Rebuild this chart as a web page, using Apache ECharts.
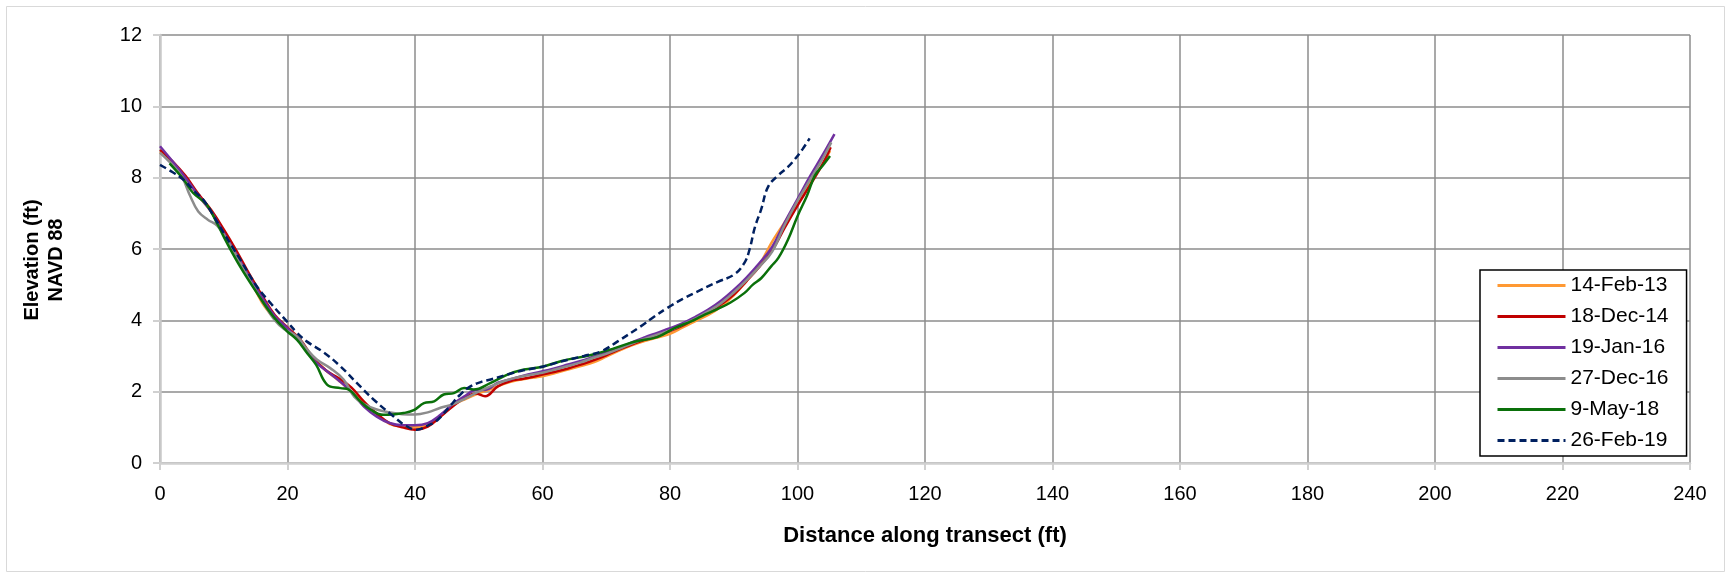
<!DOCTYPE html>
<html>
<head>
<meta charset="utf-8">
<script src="https://cdn.jsdelivr.net/npm/echarts@6/dist/echarts.min.js"></script>
<style>
  html, body { margin: 0; padding: 0; background: #fff; }
  #chart { width: 1732px; height: 579px; }
</style>
</head>
<body>
<div id="chart"></div>
<script>
// survey dates (legend)
const surveyNames = ['14-Feb-13', '18-Dec-14', '19-Jan-16', '27-Dec-16', '9-May-18', '26-Feb-19']

// [distance (ft), elevation (ft NAVD 88)]
const feb13 = [[0,8.72],[2,8.4],[4,8.0],[6,7.5],[8,7.05],[10,6.45],[12,5.85],[14,5.2],[16,4.5],[18,4.05],[20,3.72],[22,3.4],[24,2.95],[26,2.6],[28,2.32],[30,2.0],[32,1.68],[34,1.38],[36,1.1],[38,1.02],[40,1.0],[42,1.06],[44,1.3],[46,1.62],[48,1.8],[50,1.95],[52,2.08],[54,2.22],[56,2.32],[58,2.38],[60,2.43],[62,2.52],[64,2.62],[66,2.72],[68,2.82],[70,2.98],[72,3.15],[74,3.3],[76,3.42],[78,3.52],[80,3.62],[82,3.8],[84,3.98],[86,4.15],[88,4.38],[90,4.7],[92,5.1],[94,5.55],[96,6.2],[98,6.75],[100,7.25],[102,7.85],[104,8.4],[105.1,8.75]]
const dec14 = [[0,8.78],[2,8.45],[4,8.05],[6,7.55],[8,7.1],[10,6.55],[12,5.95],[14,5.3],[16,4.7],[18,4.15],[20,3.8],[22,3.46],[24,2.95],[26,2.6],[28,2.38],[30,2.12],[32,1.72],[34,1.38],[36,1.12],[38,1.0],[40,0.93],[42,1.02],[44,1.3],[46,1.6],[48,1.85],[49.5,1.95],[51,1.87],[53,2.15],[55,2.3],[57,2.36],[60,2.48],[62,2.56],[64,2.65],[66,2.76],[68,2.88],[70,3.02],[72,3.18],[74,3.32],[76,3.45],[78,3.58],[80,3.7],[82,3.85],[84,4.05],[86,4.22],[88,4.45],[90,4.72],[92,5.1],[94,5.5],[96,5.95],[98,6.6],[100,7.22],[102,7.8],[104,8.4],[105.2,8.85]]
const jan16 = [[0,8.88],[2,8.45],[4,8.0],[6,7.5],[8,7.05],[10,6.45],[12,5.85],[14,5.22],[16,4.65],[18,4.12],[20,3.78],[22,3.38],[24,2.9],[26,2.6],[28,2.32],[30,2.0],[32,1.58],[34,1.3],[36,1.12],[38,1.06],[40,1.06],[42,1.12],[44,1.35],[46,1.66],[48,1.9],[49.5,2.05],[51,2.05],[53,2.25],[55,2.35],[57,2.45],[60,2.57],[62,2.66],[64,2.76],[66,2.86],[68,2.98],[70,3.1],[72,3.22],[74,3.38],[76,3.52],[78,3.65],[80,3.78],[82,3.92],[84,4.1],[86,4.3],[88,4.55],[90,4.85],[92,5.2],[94,5.6],[96,6.05],[98,6.75],[100,7.4],[102,8.05],[104,8.65],[105.8,9.22]]
const dec16 = [[0,8.7],[2,8.35],[3.5,8.0],[4.7,7.5],[6,7.05],[7.5,6.82],[9,6.65],[10.5,6.26],[12,5.8],[14,5.15],[16,4.55],[18,4.0],[19.5,3.75],[21.5,3.55],[23,3.2],[24.6,2.9],[26.7,2.66],[28.8,2.34],[30.5,1.85],[32,1.65],[34,1.5],[36,1.42],[38,1.37],[40,1.36],[42,1.42],[44,1.55],[46,1.65],[48,1.82],[50,2.0],[52,2.16],[54,2.3],[56,2.4],[58,2.47],[60,2.53],[62,2.62],[64,2.72],[66,2.82],[68,2.95],[70,3.06],[72,3.2],[74,3.35],[76,3.48],[78,3.6],[80,3.72],[82,3.88],[84,4.05],[86,4.25],[88,4.48],[90,4.78],[92,5.12],[94,5.5],[96,5.92],[98,6.68],[100,7.35],[102,7.95],[104,8.55],[105.3,8.99]]
const may18 = [[1.5,8.4],[3.7,7.95],[5.2,7.57],[7.3,7.25],[9,6.7],[10.5,6.17],[12.6,5.5],[15.2,4.77],[17.8,4.1],[19.9,3.7],[21.5,3.45],[23,3.1],[24.5,2.75],[26.2,2.2],[28.3,2.1],[29.6,2.06],[31.4,1.73],[33,1.5],[35,1.35],[36.5,1.36],[38.2,1.4],[39.8,1.48],[41.4,1.68],[43,1.73],[44.5,1.92],[46.1,1.96],[47.7,2.1],[49.2,2.06],[51.8,2.24],[54.5,2.48],[57.1,2.62],[60,2.7],[63,2.86],[67.6,3.03],[71,3.2],[74.4,3.4],[78,3.53],[80.7,3.78],[83.3,3.97],[85,4.12],[87.5,4.32],[89.5,4.5],[91.7,4.77],[93,5.0],[94.3,5.18],[95.9,5.52],[97,5.75],[98.5,6.26],[100,6.92],[101.5,7.5],[102.7,8.05],[104,8.35],[105.1,8.61]]
const feb19 = [[0,8.36],[2,8.15],[3.7,7.94],[5.5,7.6],[6.8,7.38],[8.5,6.9],[10,6.45],[12.6,5.7],[15.2,4.95],[17.5,4.45],[19.9,3.97],[21.5,3.65],[23,3.41],[25.7,3.1],[28.3,2.71],[30.9,2.24],[33.5,1.78],[36.6,1.31],[38.5,1.05],[40.3,0.93],[42,1.05],[43.5,1.2],[45.6,1.62],[47,1.9],[48.7,2.15],[50.5,2.28],[52,2.35],[54.5,2.48],[57,2.6],[60,2.7],[62,2.8],[63.9,2.89],[66.5,3.0],[69.2,3.13],[71.8,3.41],[75.4,3.83],[77.5,4.1],[79.6,4.35],[82,4.6],[84.9,4.86],[87.5,5.08],[90.1,5.29],[91.7,5.62],[92.5,6.0],[93.3,6.6],[94.3,7.11],[95.4,7.75],[97,8.07],[98.5,8.3],[99.6,8.52],[100.8,8.8],[101.9,9.1]]

const surveyData = [feb13, dec14, jan16, dec16, may18, feb19]
const colors = ['#FF9933', '#C00000', '#7030A0', '#8C8C8C', '#0A700A', '#002060']

const FONT = '"Liberation Sans", Arial, sans-serif'

const chart = echarts.init(document.getElementById('chart'))

const series = surveyData.map((data, i) => {
  return {
    name: surveyNames[i],
    type: 'line',
    data: data,
    smooth: 0.4,
    symbol: 'none',
    lineStyle: {
      color: colors[i],
      width: 2.5,
      type: i === 5 ? [7, 4] : 'solid'
    },
    itemStyle: { color: colors[i] },
    z: 2 + i
  }
})

const option = {
  backgroundColor: '#fff',
  animation: false,
  textStyle: { fontFamily: FONT },
  graphic: [{
    type: 'rect',
    shape: { x: 6.5, y: 6.5, width: 1718, height: 565 },
    style: { fill: null, stroke: '#D9D9D9', lineWidth: 1 },
    silent: true
  }],
  grid: {
    left: 160,
    top: 35,
    width: 1530,
    height: 428
  },
  legend: {
    orient: 'vertical',
    left: 1480,
    top: 270,
    padding: [5, 18, 5, 16],
    itemWidth: 68,
    itemHeight: 14,
    itemGap: 10,
    backgroundColor: '#fff',
    borderColor: '#000',
    borderWidth: 1.5,
    borderRadius: 0,
    itemStyle: { opacity: 0 },
    lineStyle: { width: 3 },
    textStyle: { fontFamily: FONT, fontSize: 21, color: '#000', lineHeight: 20 },
    data: surveyNames
  },
  xAxis: {
    type: 'value',
    min: 0,
    max: 240,
    interval: 20,
    name: 'Distance along transect (ft)',
    nameLocation: 'middle',
    nameGap: 62,
    nameTextStyle: { fontFamily: FONT, fontSize: 22, fontWeight: 'bold', color: '#000' },
    axisLine: { show: true, onZero: false, lineStyle: { color: '#D0D0D0', width: 2.5 } },
    axisTick: { show: true, length: 7, lineStyle: { color: '#D0D0D0', width: 2 } },
    axisLabel: { fontSize: 20, color: '#000', margin: 21, fontFamily: FONT },
    splitLine: { show: true, lineStyle: { color: '#8C8C8C', width: 1.5 } }
  },
  yAxis: {
    type: 'value',
    min: 0,
    max: 12,
    interval: 2,
    name: 'Elevation (ft)\nNAVD 88',
    nameLocation: 'middle',
    nameGap: 92,
    nameRotate: 90,
    nameTextStyle: {
      fontFamily: FONT, fontSize: 20, fontWeight: 'bold', color: '#000',
      lineHeight: 24, align: 'center', padding: [0, 22, 0, 0]
    },
    axisLine: { show: true, lineStyle: { color: '#C8C8C8', width: 2.5 } },
    axisTick: { show: true, length: 7, lineStyle: { color: '#D0D0D0', width: 2 } },
    axisLabel: { fontSize: 20, color: '#000', margin: 18, fontFamily: FONT },
    splitLine: { show: true, lineStyle: { color: '#8C8C8C', width: 1.5 } }
  },
  series: series
}

chart.setOption(option)
window.addEventListener('resize', () => chart.resize())
</script>
</body>
</html>
